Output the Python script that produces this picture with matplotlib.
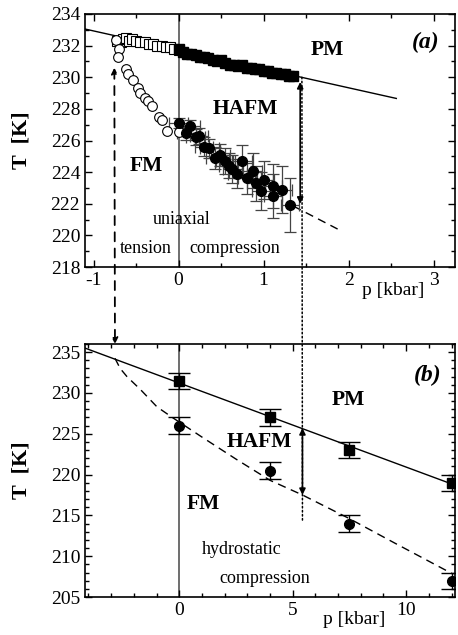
import matplotlib
matplotlib.use("Agg")
import matplotlib.pyplot as plt
from matplotlib.patches import ConnectionPatch
from matplotlib.ticker import MultipleLocator

plt.rcParams['font.family'] = ['Liberation Serif', 'DejaVu Serif']
plt.rcParams['mathtext.fontset'] = 'stix'

# ---------------- Panel (a) data: uniaxial ----------------
a_open_sq_p = [-0.72, -0.68, -0.65, -0.62, -0.58, -0.55, -0.50, -0.45, -0.40, -0.35,
               -0.30, -0.25, -0.20, -0.15, -0.10, -0.05, 0.00]
a_open_sq_T = [232.3, 232.2, 232.4, 232.5, 232.3, 232.4, 232.3, 232.2, 232.2, 232.1,
               232.1, 232.0, 232.0, 231.9, 231.9, 231.8, 231.7]
a_fill_sq_p = [0.00, 0.05, 0.10, 0.15, 0.20, 0.25, 0.30, 0.35, 0.40, 0.45, 0.50, 0.55,
               0.60, 0.65, 0.70, 0.75, 0.80, 0.85, 0.90, 0.95, 1.00, 1.05, 1.10, 1.15,
               1.20, 1.25, 1.30, 1.35]
a_fill_sq_T = [231.8, 231.6, 231.5, 231.5, 231.4, 231.3, 231.3, 231.2, 231.1, 231.0,
               231.1, 230.9, 230.8, 230.8, 230.7, 230.8, 230.6, 230.6, 230.5, 230.5,
               230.4, 230.4, 230.3, 230.3, 230.2, 230.2, 230.1, 230.05]
a_open_ci_p = [-0.74, -0.70, -0.71, -0.62, -0.60, -0.54, -0.48, -0.45, -0.40, -0.36,
               -0.31, -0.23, -0.20, -0.14, 0.00]
a_open_ci_T = [232.35, 231.8, 231.3, 230.55, 230.2, 229.8, 229.3, 229.0, 228.7, 228.5,
               228.2, 227.5, 227.3, 226.6, 226.55]
a_fill_ci_p = [0.00, 0.09, 0.14, 0.20, 0.24, 0.30, 0.36, 0.43, 0.49, 0.55, 0.59, 0.63,
               0.69, 0.75, 0.81, 0.87, 0.91, 0.97, 1.01, 1.11, 1.11, 1.22, 1.31]
a_fill_ci_T = [227.1, 226.45, 226.9, 226.2, 226.3, 225.6, 225.5, 224.9, 225.1, 224.7,
               224.4, 224.2, 223.9, 224.7, 223.6, 224.1, 223.3, 222.8, 223.5, 222.5,
               223.1, 222.9, 221.9]
a_fill_ci_Terr = [0.3, 0.4, 0.4, 0.5, 0.5, 0.6, 0.6, 0.7, 0.7, 0.8, 0.8, 0.9,
                  0.9, 1.0, 1.0, 1.1, 1.1, 1.2, 1.2, 1.4, 1.4, 1.5, 1.7]
a_fill_ci_perr = 0.11
a_line_p = [-1.10, 2.56]
a_line_T = [233.05, 228.66]
a_dash_p = [1.35, 1.87]
a_dash_T = [221.85, 220.4]

# ---------------- Panel (b) data: hydrostatic ----------------
b_sq_p = [0.0, 4.0, 7.5, 12.0]
b_sq_T = [231.5, 227.0, 223.0, 219.0]
b_ci_p = [0.0, 4.0, 7.5, 12.0]
b_ci_T = [226.0, 220.5, 214.0, 207.0]
b_err = 1.0
b_line_p = [-4.15, 12.15]
b_line_T = [235.5, 218.7]
b_curve_p = [-2.83, -2.6, -2.3, -1.7, -0.98, -0.25, 1.0, 2.5, 4.0, 5.43, 7.5, 9.5, 12.0]
b_curve_T = [234.25, 233.0, 232.0, 230.4, 228.3, 226.9, 224.6, 221.9, 219.3, 217.5, 214.6, 211.6, 207.9]

W, H = 458, 635
fig = plt.figure(figsize=(W / 100, H / 100), dpi=100)
left, right = 85 / W, 455 / W
axA = fig.add_axes([left, 1 - 267 / H, right - left, (267 - 14) / H])
axB = fig.add_axes([left, 1 - 597 / H, right - left, (597 - 344) / H])

tick_fs = 14
for ax in (axA, axB):
    ax.tick_params(which='both', direction='in', top=True, right=True,
                   labelsize=tick_fs, width=1.0)
    ax.tick_params(which='major', length=5)
    ax.tick_params(which='minor', length=3)
    for s in ax.spines.values():
        s.set_linewidth(1.2)
    ax.set_ylabel('T  [K]', fontsize=16, fontweight='bold', labelpad=14)

# ---- Panel (a)
axA.set_xlim(-1.1, 3.25)
axA.set_ylim(218, 234)
axA.xaxis.set_major_locator(MultipleLocator(1))
axA.xaxis.set_minor_locator(MultipleLocator(0.5))
axA.yaxis.set_major_locator(MultipleLocator(2))
axA.yaxis.set_minor_locator(MultipleLocator(1))
axA.set_xticks([-1, 0, 1, 2, 3])
axA.set_xticklabels(['-1', '0', '1', '2', '3'])
axA.axvline(0, color='#555555', lw=1.2, zorder=1)
axA.plot(a_line_p, a_line_T, color='black', lw=1.0, zorder=2)
axA.plot(a_dash_p, a_dash_T, color='black', lw=1.0, ls=(0, (6, 4)), zorder=2)
axA.errorbar(a_fill_ci_p, a_fill_ci_T, yerr=a_fill_ci_Terr, xerr=a_fill_ci_perr,
             fmt='none', ecolor='#444444', elinewidth=0.9, capsize=4, capthick=0.9, zorder=2)
axA.plot(a_open_sq_p, a_open_sq_T, 's', mfc='white', mec='black', ms=6.5, mew=0.8, zorder=3)
axA.plot(a_fill_sq_p, a_fill_sq_T, 's', mfc='black', mec='black', ms=7, zorder=3)
axA.plot(a_open_ci_p, a_open_ci_T, 'o', mfc='white', mec='black', ms=7, mew=0.8, zorder=3)
axA.plot(a_fill_ci_p, a_fill_ci_T, 'o', mfc='black', mec='black', ms=7, zorder=4)
# vertical double arrow (a)
axA.annotate('', xy=(1.43, 222.0), xytext=(1.43, 229.7),
             arrowprops=dict(arrowstyle='<|-|>', color='black', lw=1.2,
                             mutation_scale=9, shrinkA=0, shrinkB=0))
axA.text(2.91, 232.2, '(a)', fontsize=17, fontweight='bold', fontstyle='italic',
         ha='center', va='center')
axA.text(1.75, 231.7, 'PM', fontsize=15.5, fontweight='bold', ha='center', va='center')
axA.text(0.79, 228.0, 'HAFM', fontsize=15.5, fontweight='bold', ha='center', va='center')
axA.text(-0.38, 224.4, 'FM', fontsize=15.5, fontweight='bold', ha='center', va='center')
axA.text(0.04, 221.0, 'uniaxial', fontsize=13, ha='center', va='center')
axA.text(-0.38, 219.2, 'tension', fontsize=13, ha='center', va='center')
axA.text(0.66, 219.2, 'compression', fontsize=13, ha='center', va='center')
axA.text(0.832, -0.092, 'p [kbar]', fontsize=14, ha='center', va='center',
         transform=axA.transAxes)

# ---- Panel (b)
axB.set_xlim(-4.15, 12.15)
axB.set_ylim(205, 236)
axB.xaxis.set_major_locator(MultipleLocator(5))
axB.xaxis.set_minor_locator(MultipleLocator(1))
axB.yaxis.set_major_locator(MultipleLocator(5))
axB.yaxis.set_minor_locator(MultipleLocator(1))
axB.set_xticks([0, 5, 10])
axB.axvline(0, color='#555555', lw=1.2, zorder=1)
axB.plot(b_line_p, b_line_T, color='black', lw=1.0, zorder=2)
axB.plot(b_curve_p, b_curve_T, color='black', lw=1.0, ls=(0, (6, 4)), zorder=2)
axB.errorbar(b_sq_p, b_sq_T, yerr=b_err, fmt='s', mfc='black', mec='black', ms=7,
             ecolor='black', elinewidth=1.0, capsize=8, capthick=1.0, zorder=3)
axB.errorbar(b_ci_p, b_ci_T, yerr=b_err, fmt='o', mfc='black', mec='black', ms=7,
             ecolor='black', elinewidth=1.0, capsize=8, capthick=1.0, zorder=3)
axB.annotate('', xy=(5.43, 217.5), xytext=(5.43, 225.7),
             arrowprops=dict(arrowstyle='<|-|>', color='black', lw=1.2,
                             mutation_scale=9, shrinkA=0, shrinkB=0))
axB.text(10.96, 232.2, '(b)', fontsize=17, fontweight='bold', fontstyle='italic',
         ha='center', va='center')
axB.text(7.45, 229.1, 'PM', fontsize=15.5, fontweight='bold', ha='center', va='center')
axB.text(3.55, 224.0, 'HAFM', fontsize=15.5, fontweight='bold', ha='center', va='center')
axB.text(1.06, 216.4, 'FM', fontsize=15.5, fontweight='bold', ha='center', va='center')
axB.text(2.75, 210.8, 'hydrostatic', fontsize=13, ha='center', va='center')
axB.text(3.78, 207.3, 'compression', fontsize=13, ha='center', va='center')
axB.text(0.727, -0.09, 'p [kbar]', fontsize=14, ha='center', va='center',
         transform=axB.transAxes)

# ---- Connecting lines between panels
con1 = ConnectionPatch(xyA=(-0.755, 230.6), coordsA=axA.transData,
                       xyB=(-2.83, 236.0), coordsB=axB.transData,
                       arrowstyle='<|-|>', linestyle=(0, (5, 4)), lw=1.3,
                       color='black', mutation_scale=9, shrinkA=0, shrinkB=0)
fig.add_artist(con1)
con2 = ConnectionPatch(xyA=(1.45, 230.0), coordsA=axA.transData,
                       xyB=(5.43, 214.3), coordsB=axB.transData,
                       linestyle=':', lw=1.1, color='black')
fig.add_artist(con2)

fig.savefig('out.png', dpi=100)
